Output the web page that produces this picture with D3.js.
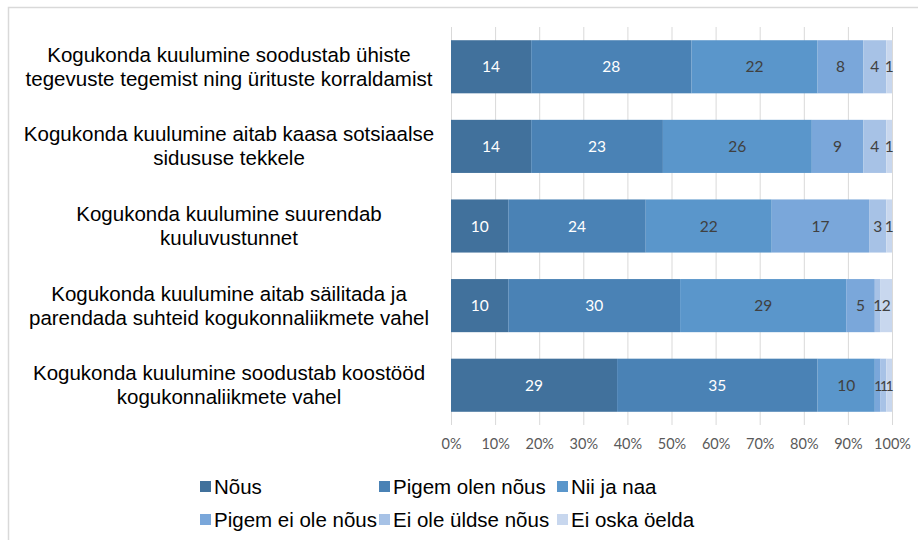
<!DOCTYPE html>
<html lang="et">
<head>
<meta charset="utf-8">
<script src="https://d3js.org/d3.v7.min.js"></script>
<style>
  body { margin: 0; background: #fff; }
  svg { display: block; }
</style>
</head>
<body>
<script>
// data
const statements = [
  ["Kogukonda kuulumine soodustab ühiste", "tegevuste tegemist ning ürituste korraldamist"],
  ["Kogukonda kuulumine aitab kaasa sotsiaalse", "sidususe tekkele"],
  ["Kogukonda kuulumine suurendab", "kuuluvustunnet"],
  ["Kogukonda kuulumine aitab säilitada ja", "parendada suhteid kogukonnaliikmete vahel"],
  ["Kogukonda kuulumine soodustab koostööd", "kogukonnaliikmete vahel"]
];
const answers = ["Nõus", "Pigem olen nõus", "Nii ja naa", "Pigem ei ole nõus", "Ei ole üldse nõus", "Ei oska öelda"];
const nous         = [14, 14, 10, 10, 29];
const pigemNous    = [28, 23, 24, 30, 35];
const niiJaNaa     = [22, 26, 22, 29, 10];
const pigemEiNous  = [8, 9, 17, 5, 1];
const eiUldseNous  = [4, 4, 3, 1, 1];
const eiOskaOelda  = [1, 1, 1, 2, 1];
const xTicks = [0, 0.1, 0.2, 0.3, 0.4, 0.5, 0.6, 0.7, 0.8, 0.9, 1];

const series = [nous, pigemNous, niiJaNaa, pigemEiNous, eiUldseNous, eiOskaOelda];
const colors = ["#41719c", "#4a82b5", "#5a96cb", "#7aa7da", "#a7c2e6", "#c8d7ee"];
const labelColors = ["#ffffff", "#ffffff", "#404040", "#404040", "#404040", "#404040"];

const W = 918, H = 540;
const svg = d3.select("body").append("svg").attr("width", W).attr("height", H);

// outer chart border (cut off at right and bottom)
svg.append("rect")
  .attr("x", 8.5).attr("y", 7.5)
  .attr("width", W).attr("height", H)
  .attr("fill", "none").attr("stroke", "#d9d9d9").attr("stroke-width", 1.5);

const rows = statements.map((s, i) => {
  const vals = series.map(a => a[i]);
  return { idx: i, vals, total: d3.sum(vals) };
});

const x = d3.scaleLinear().domain([0, 1]).range([451, 892]);
const y = d3.scaleBand().domain(d3.range(statements.length)).range([27, 425]).paddingInner(0.333).paddingOuter(0.166);

// gridlines
svg.append("g").selectAll("line")
  .data(xTicks).join("line")
  .attr("x1", d => x(d) + 0.5).attr("x2", d => x(d) + 0.5)
  .attr("y1", 27).attr("y2", 425)
  .attr("stroke", "#d9d9d9").attr("stroke-width", 1);

// axis labels
const xAxis = d3.axisBottom(x).tickValues(xTicks).tickFormat(d3.format(".0%")).tickSize(0).tickPadding(14);
const gx = svg.append("g").attr("transform", "translate(0,425)").call(xAxis);
gx.select(".domain").remove();
gx.selectAll("text")
  .attr("fill", "#595959")
  .style("font-family", "Lato, 'Open Sans', sans-serif")
  .style("font-size", "14.5px");

// stacked segments
const segs = [];
rows.forEach(r => {
  let acc = 0;
  r.vals.forEach((v, k) => {
    segs.push({ row: r.idx, k, v, x0: acc / r.total, x1: (acc + v) / r.total });
    acc += v;
  });
});
const narrow = d => d && (x(d.x1) - x(d.x0) < 8);
segs.forEach((d, i) => {
  const prev = segs[i - 1] && segs[i - 1].row === d.row ? segs[i - 1] : null;
  const next = segs[i + 1] && segs[i + 1].row === d.row ? segs[i + 1] : null;
  d.tight = narrow(d) && (narrow(prev) || narrow(next));
});

svg.append("g").selectAll("rect")
  .data(segs).join("rect")
  .attr("x", d => x(d.x0))
  .attr("y", d => y(d.row))
  .attr("width", d => x(d.x1) - x(d.x0))
  .attr("height", y.bandwidth())
  .attr("fill", d => colors[d.k]);

// value labels; runs of tiny segments get a narrower glyph so "111" stays readable
svg.append("g").selectAll("text")
  .data(segs).join("text")
  .attr("x", d => (x(d.x0) + x(d.x1)) / 2)
  .attr("y", d => y(d.row) + y.bandwidth() / 2 + 5.5)
  .attr("text-anchor", "middle")
  .attr("fill", d => labelColors[d.k])
  .style("font-family", "Lato, 'Open Sans', sans-serif")
  .style("font-size", d => (d.tight ? "13.5px" : "15.5px"))
  .style("letter-spacing", d => (d.tight ? "-1px" : "0px"))
  .text(d => d.v);

// category labels
const cat = svg.append("g").selectAll("text")
  .data(statements).join("text")
  .attr("text-anchor", "middle")
  .attr("fill", "#000")
  .style("font-family", "'Liberation Sans', Arial, sans-serif")
  .style("font-size", "20.5px");
cat.each(function (lines, i) {
  const cy = y(i) + y.bandwidth() / 2;
  d3.select(this).selectAll("tspan")
    .data(lines).join("tspan")
    .attr("x", 229)
    .attr("y", (d, j) => cy - 12 + 7 + j * 24)
    .text(d => d);
});

// legend
const legendPos = [[200, 486], [379, 486], [557, 486], [200, 519], [379, 519], [557, 519]];
const lg = svg.append("g").selectAll("g")
  .data(answers).join("g")
  .attr("transform", (d, i) => `translate(${legendPos[i][0]},${legendPos[i][1]})`);
lg.append("rect")
  .attr("x", 0).attr("y", -5).attr("width", 11).attr("height", 11)
  .attr("fill", (d, i) => colors[i]);
lg.append("text")
  .attr("x", 14).attr("y", 7.5)
  .attr("fill", "#000")
  .style("font-family", "'Liberation Sans', Arial, sans-serif")
  .style("font-size", "20.5px")
  .text(d => d);
</script>
</body>
</html>
